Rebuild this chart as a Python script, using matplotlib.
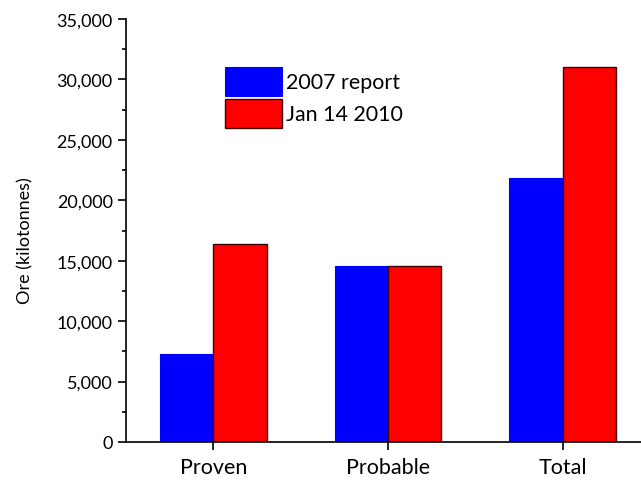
import matplotlib.pyplot as plt
import numpy as np
from matplotlib.ticker import MultipleLocator, FuncFormatter

categories = ["Proven", "Probable", "Total"]
report_2007 = [7300, 14550, 21850]
jan_2010 = [16400, 14550, 31000]
series_labels = ["2007 report", "Jan 14 2010"]

plt.rcParams['font.family'] = ['Lato', 'DejaVu Sans']

fig = plt.figure(figsize=(6.41, 4.81), dpi=100)
ax = fig.add_axes([126 / 641, 1 - 443 / 481, (650 - 126) / 641, (443 - 20) / 481])

x = np.arange(1, len(categories) + 1)
w = 0.305
ax.bar(x - w / 2, report_2007, w, color='#0000ff', edgecolor='#0000ff', linewidth=0.8,
       label=series_labels[0])
ax.bar(x + w / 2, jan_2010, w, color='#ff0000', edgecolor='#400000', linewidth=1.0,
       label=series_labels[1])

ax.set_xlim(0.5, 3.5)
ax.set_ylim(0, 35000)
ax.set_xticks(x)
ax.set_xticklabels(categories)
ax.yaxis.set_major_locator(MultipleLocator(5000))
ax.yaxis.set_minor_locator(MultipleLocator(2500))
ax.yaxis.set_major_formatter(FuncFormatter(lambda v, p: f"{int(v):,}"))
ax.tick_params(axis='y', which='major', direction='out', length=6, width=1.2,
               labelsize=13, pad=3.5)
ax.tick_params(axis='y', which='minor', direction='out', length=3, width=1.2)
ax.tick_params(axis='x', which='major', direction='out', length=6, width=1.2,
               labelsize=15.5, pad=5)
for s in ['top', 'right']:
    ax.spines[s].set_visible(False)
for s in ['left', 'bottom']:
    ax.spines[s].set_linewidth(1.2)

ax.set_ylabel("Ore (kilotonnes)", fontsize=13)
ax.yaxis.set_label_coords(33 / 641, 0.5, transform=fig.transFigure)

ax.legend(loc='upper left', bbox_to_anchor=(225 / 641, 1 - 68 / 481),
          bbox_transform=fig.transFigure, frameon=False, fontsize=15.4,
          borderpad=0, borderaxespad=0, handlelength=2.66, handleheight=1.71,
          handletextpad=0.2, labelspacing=0.14)

fig.savefig("out.png", dpi=100)
